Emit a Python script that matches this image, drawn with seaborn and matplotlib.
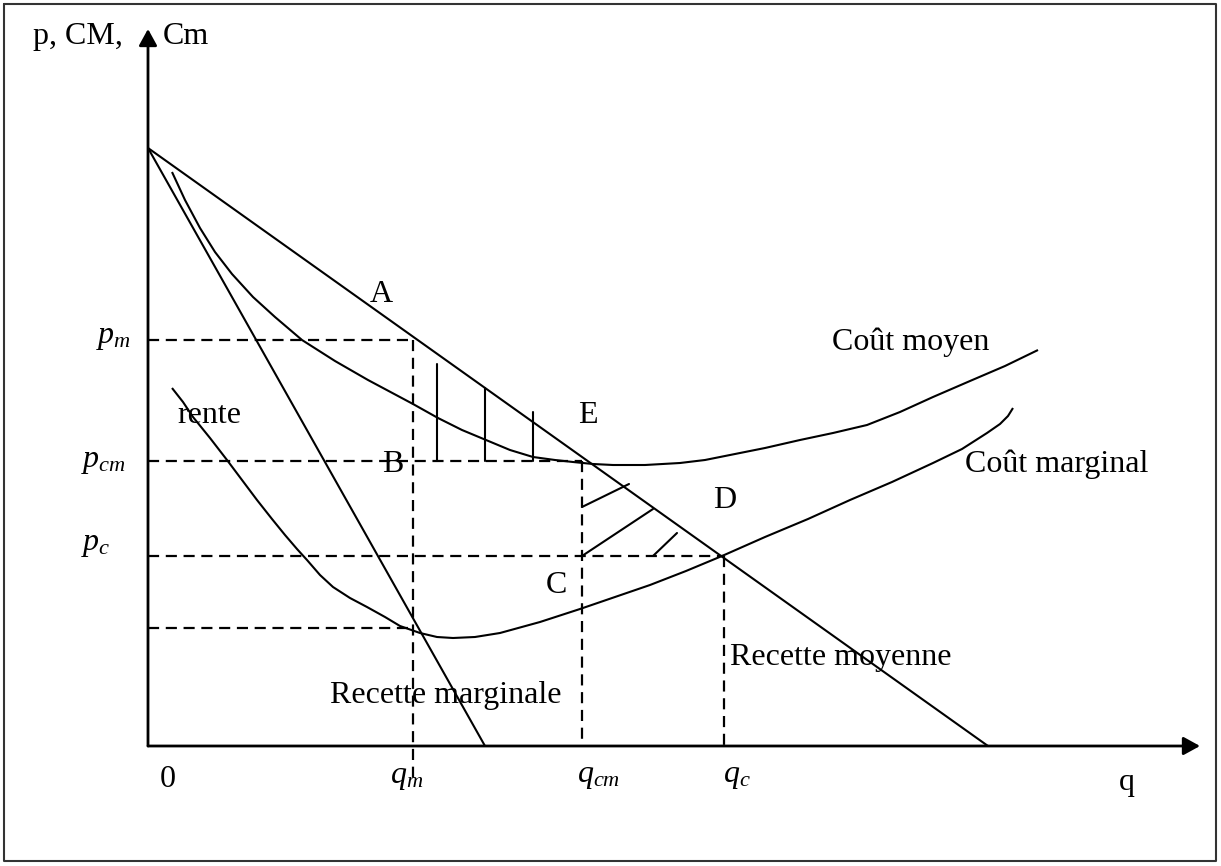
import matplotlib
matplotlib.use("Agg")
import matplotlib.pyplot as plt
import seaborn as sns
import numpy as np
import pandas as pd

# ---------------- data (q = quantity, p = price) ----------------
demand_q = [0, 840]
demand_p = [598, 0]
mr_q = [0, 337]
mr_p = [598, 0]
cm_q = [24, 37, 52, 67, 84, 105, 127, 154, 187, 220, 265, 290, 314, 338, 362, 385,
        407, 425, 445, 465, 497, 532, 557, 582, 617, 652, 685, 719, 752, 785, 822,
        857, 890]
cm_p = [574, 546, 518, 494, 472, 449, 429, 406, 385, 366, 342, 328, 316, 306, 296,
        289, 286, 284, 282, 281, 281, 283, 286, 291, 298, 306, 313, 321, 334, 349,
        365, 380, 396]
cmg_q = [24, 35, 45, 62, 79, 94, 109, 124, 137, 149, 159, 172, 185, 202, 219, 237,
         252, 272, 289, 305, 327, 352, 392, 432, 467, 502, 538, 574, 617, 660, 702,
         744, 785, 814, 839, 852, 860, 865]
cmg_p = [358, 344, 329, 308, 286, 266, 246, 227, 211, 197, 186, 171, 159, 148, 139,
         129, 120, 113, 109, 108, 109, 113, 124, 137, 149, 161, 175, 190, 209, 227,
         246, 264, 283, 297, 313, 322, 330, 338]

p_m, p_cm, p_c, p_low = 406, 285, 190, 118
q_m, q_cm, q_c = 265, 434, 576

vhatch_q = [289, 337, 385]
vhatch_top = [382, 358, 334]
dhatch_q0 = [434, 434, 505]
dhatch_p0 = [239, 190, 190]
dhatch_q1 = [481, 505, 529]
dhatch_p1 = [262, 237, 213]

# ---------------- style ----------------
sns.set_theme(style="white")
plt.rcParams["font.family"] = ["Liberation Serif", "DejaVu Serif"]
plt.rcParams["mathtext.fontset"] = "custom"
plt.rcParams["mathtext.rm"] = "Liberation Serif"
plt.rcParams["mathtext.it"] = "Liberation Serif:italic"

fig = plt.figure(figsize=(12.21, 8.66), dpi=100)
ax = fig.add_axes([0, 0, 1, 1])
ax.set_xlim(-148, 1073)
ax.set_ylim(-120, 746)
ax.axis("off")

LW = 1.5
dash = (0, (5, 3))

# curves
for qs, ps in [(demand_q, demand_p), (mr_q, mr_p), (cm_q, cm_p), (cmg_q, cmg_p)]:
    df = pd.DataFrame({"q": qs, "p": ps})
    sns.lineplot(data=df, x="q", y="p", sort=False, estimator=None,
                 color="black", lw=LW, ax=ax,
                 solid_joinstyle="round", solid_capstyle="butt")

# dashed guide lines
dkw = dict(color="black", lw=1.6, linestyle=dash)
ax.plot([0, q_m], [p_m, p_m], **dkw)
ax.plot([q_m, q_m], [p_m, -34], **dkw)
ax.plot([0, q_cm], [p_cm, p_cm], **dkw)
ax.plot([q_cm, q_cm], [p_cm, 0], **dkw)
ax.plot([0, q_c], [p_c, p_c], **dkw)
ax.plot([q_c, q_c], [p_c, 0], **dkw)
ax.plot([0, q_m], [p_low, p_low], **dkw)

# hatching
for q, top in zip(vhatch_q, vhatch_top):
    ax.plot([q, q], [p_cm, top], color="black", lw=LW)
for a, b, c, d in zip(dhatch_q0, dhatch_p0, dhatch_q1, dhatch_p1):
    ax.plot([a, c], [b, d], color="black", lw=LW)

# axes with arrows
akw = dict(arrowstyle="-|>,head_length=0.4,head_width=0.22", mutation_scale=25,
           lw=2, color="black", shrinkA=0, shrinkB=0)
ax.annotate("", xy=(0, 717), xytext=(0, 0), arrowprops=akw)
ax.annotate("", xy=(1052, 0), xytext=(0, 0), arrowprops=akw)

# outer frame
ax.plot([-144, 1068, 1068, -144, -144], [742, 742, -115, -115, 742],
        color="#333333", lw=1.5)

# labels
FS = 23
t = dict(fontsize=FS, color="black", va="baseline")
ax.text(-115, 702, "p, CM,", ha="left", **t)
ax.text(15, 702, "Cm", ha="left", **t)
ax.text(233, 444, "A", ha="center", **t)
ax.text(245, 274, "B", ha="center", **t)
ax.text(440, 323, "E", ha="center", **t)
ax.text(408, 153, "C", ha="center", **t)
ax.text(577, 238, "D", ha="center", **t)
ax.text(29, 323, "rente", ha="left", **t)
ax.text(684, 396, "Coût moyen", ha="left", **t)
ax.text(817, 274, "Coût marginal", ha="left", **t)
ax.text(182, 43, "Recette marginale", ha="left", **t)
ax.text(582, 81, "Recette moyenne", ha="left", **t)
ax.text(12, -41, "0", ha="left", **t)
ax.text(979, -44, "q", ha="center", **t)
ax.text(242, -37, r"$q_m$", ha="left", **t)
ax.text(429, -36, r"$q_{cm}$", ha="left", **t)
ax.text(575, -36, r"$q_c$", ha="left", **t)
ax.text(-52, 403, r"$p_m$", ha="left", **t)
ax.text(-67, 279, r"$p_{cm}$", ha="left", **t)
ax.text(-67, 196, r"$p_c$", ha="left", **t)

fig.savefig("out.png", dpi=100)
